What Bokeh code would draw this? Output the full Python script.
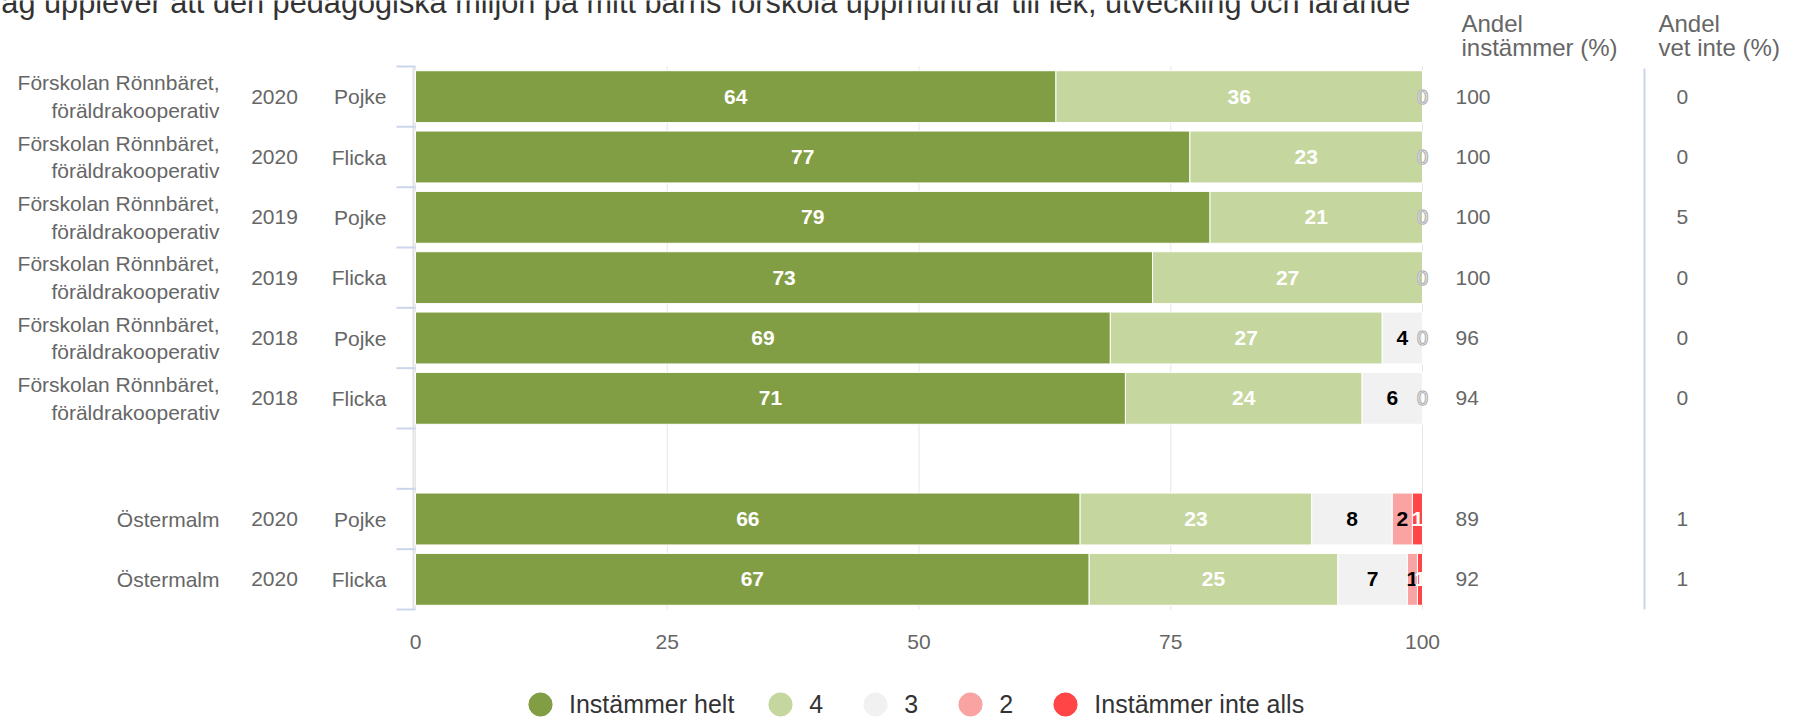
from bokeh.plotting import figure
from bokeh.models import Range1d, Legend, LegendItem, ColumnDataSource
from bokeh.embed import file_html
from bokeh.resources import INLINE
from bokeh.core.properties import value

# ---------------- data ----------------
title_text = ("Jag upplever att den pedagogiska miljön på mitt barns förskola "
              "uppmuntrar till lek, utveckling och lärande")
schools = ["Förskolan Rönnbäret,\nföräldrakooperativ"] * 6 + ["Östermalm"] * 2
years = ["2020", "2020", "2019", "2019", "2018", "2018", "2020", "2020"]
genders = ["Pojke", "Flicka", "Pojke", "Flicka", "Pojke", "Flicka", "Pojke", "Flicka"]

series_names = ["Instämmer helt", "4", "3", "2", "Instämmer inte alls"]
helt = [63.6, 76.9, 78.9, 73.2, 69.0, 70.5, 66.0, 66.9]
fyra = [36.4, 23.1, 21.1, 26.8, 27.0, 23.5, 23.0, 24.7]
tre = [0, 0, 0, 0, 4.0, 6.0, 8.0, 6.9]
tva = [0, 0, 0, 0, 0, 0, 2.0, 1.0]
inte_alls = [0, 0, 0, 0, 0, 0, 1.0, 0.5]

andel_instammer = [100, 100, 100, 100, 96, 94, 89, 92]
andel_vet_inte = [0, 0, 5, 0, 0, 0, 1, 1]

x_ticks = [0, 25, 50, 75, 100]
header_instammer = ["Andel", "instämmer (%)"]
header_vet_inte = ["Andel", "vet inte (%)"]

# ---------------- layout / style ----------------
colors = ["#829e44", "#c5d79e", "#f1f1f1", "#f9a3a3", "#ff4545"]
label_colors = ["#ffffff", "#ffffff", "#000000", "#000000", "#ffffff"]
FONT_NAME = "Liberation Sans"
FONT = value(FONT_NAME)
W, H = 1794, 719
X0, X100 = 415, 1422        # canvas px of 0 % and 100 %
FT, FB = 66, 609            # top / bottom of the category band
PX_UNIT = (X100 - X0) / 100.0

# row slots: a blank slot between schools
pos = []
slot_i = 0
prev = None
for s in schools:
    if prev is not None and s != prev:
        slot_i += 1
    pos.append(slot_i)
    slot_i += 1
    prev = s
n_slots = slot_i
SLOT = (FB - FT) / n_slots


def xd(cx):
    return (cx - X0) / PX_UNIT


def yd(cy):
    return -0.5 + (cy - FT) / SLOT


p = figure(width=W, height=H, x_range=Range1d(xd(0), xd(W)),
           y_range=Range1d(yd(H), yd(0)),
           x_axis_location=None, y_axis_location=None,
           output_backend="svg", toolbar_location=None,
           min_border_left=0, min_border_right=0, min_border_top=0,
           min_border_bottom=0)
p.outline_line_color = None
p.grid.visible = False

band_top, band_bot = -0.5, n_slots - 0.5

# vertical grid lines at the x ticks
p.segment(x0=x_ticks, x1=x_ticks, y0=[band_top] * len(x_ticks),
          y1=[band_bot] * len(x_ticks), line_color="#e6e6e6", line_width=1)
# x tick labels
p.text(x=x_ticks, y=[yd(641)] * len(x_ticks), text=[str(t) for t in x_ticks],
       text_font=FONT, text_font_size="21px", text_color="#666666",
       text_align="center", text_baseline="middle")

# category axis: line + ticks between categories
p.segment(x0=[xd(413)], x1=[xd(413)], y0=[band_top], y1=[band_bot],
          line_color="#e2e2e2", line_width=2)
ytk = [i - 0.5 for i in range(n_slots + 1)]
p.segment(x0=[xd(396)] * len(ytk), x1=[xd(415)] * len(ytk), y0=ytk, y1=ytk,
          line_color="#ccd6eb", line_width=2)

# stacked bars
series = [helt, fyra, tre, tva, inte_alls]
left = [0.0] * len(pos)
legend_items = []
for k, vals in enumerate(series):
    right = [l + v for l, v in zip(left, vals)]
    mid = [(l + r) / 2.0 for l, r in zip(left, right)]
    src = ColumnDataSource(dict(y=pos, left=left, right=right, mid=mid))
    p.hbar(y="y", left="left", right="right", height=0.86, source=src,
           fill_color=colors[k], line_color="white", line_width=1)
    tx, ty, tt, zx, zy = [], [], [], [], []
    for l, r, v, yy in zip(left, right, vals, pos):
        if v > 0:
            tx.append((l + r) / 2.0)
            ty.append(yy)
            tt.append(str(int(v + 0.5)))
        else:
            zx.append(l)
            zy.append(yy)
    if tx:
        p.text(x=tx, y=ty, text=tt, text_font=FONT, text_font_size="21px",
               text_font_style="bold", text_color=label_colors[k],
               text_align="center", text_baseline="middle")
    if zx:
        p.text(x=zx, y=zy, text=["0"] * len(zx), text_font=FONT,
               text_font_size="20px", text_color="#ffffff",
               text_outline_color="#b4b4b4",
               text_align="center", text_baseline="middle")
    # legend proxy: invisible (size 0) markers at the segment centres
    r_leg = p.scatter(x="mid", y="y", source=src, marker="circle", size=0,
                      fill_color=colors[k], line_color=colors[k])
    legend_items.append(LegendItem(label=series_names[k], renderers=[r_leg]))
    left = right

# table columns
p.text(x=[xd(1455)] * len(pos), y=pos, text=[str(v) for v in andel_instammer],
       text_font=FONT, text_font_size="21px", text_color="#666666",
       text_align="left", text_baseline="middle")
p.text(x=[xd(1676)] * len(pos), y=pos, text=[str(v) for v in andel_vet_inte],
       text_font=FONT, text_font_size="21px", text_color="#666666",
       text_align="left", text_baseline="middle")
p.segment(x0=[xd(1644)], x1=[xd(1644)], y0=[yd(68)], y1=[band_bot],
          line_color="#ccd6eb", line_width=2)

# category labels
for cx, col, al in ((219, schools, "right"), (274, years, "center"),
                    (386, genders, "right")):
    p.text(x=[xd(cx)] * len(pos), y=pos, text=col, text_font=FONT,
           text_font_size="21px", text_color="#666666", text_align=al,
           text_baseline="middle", text_line_height=1.2)

# headers
for cx, lines in ((1461, header_instammer), (1658, header_vet_inte)):
    p.text(x=[xd(cx)] * 2, y=[yd(23), yd(47)], text=lines, text_font=FONT,
           text_font_size="24px", text_color="#666666",
           text_align="left", text_baseline="alphabetic")

# title (cut at the top edge like the reference)
p.text(x=[xd(-14.5)], y=[yd(2)], text=[title_text], text_font=FONT,
       text_font_size="30.7px", text_color="#333333",
       text_align="left", text_baseline="alphabetic")

legend = Legend(items=legend_items, orientation="horizontal", location=(511, -14),
                glyph_width=58, glyph_height=58, label_standoff=-2, spacing=17,
                padding=0, margin=0, border_line_color=None,
                background_fill_alpha=0, label_text_font=FONT_NAME,
                label_text_font_size="25px", label_text_color="#333333")
p.add_layout(legend)

open("out.html", "w").write(file_html(p, INLINE))
